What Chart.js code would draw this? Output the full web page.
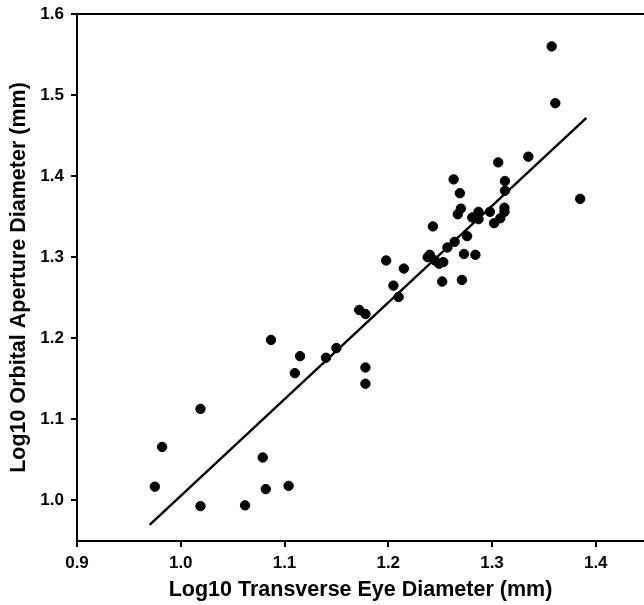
<!DOCTYPE html>
<html>
<head>
<meta charset="utf-8">
<script src="https://cdn.jsdelivr.net/npm/chart.js@4"></script>
<style>
  html, body { margin: 0; padding: 0; background: #fff; }
  #wrap { width: 644px; height: 605px; }
</style>
</head>
<body>
<div id="wrap"><canvas id="eye-chart" width="644" height="605"></canvas></div>
<script>
// ---------------------------------------------------------------------------------------
// Daten

var transverseEye = [0.975, 0.982, 1.019, 1.019, 1.062, 1.079, 1.082, 1.104, 1.087, 1.115,
  1.110, 1.140, 1.150, 1.172, 1.178, 1.178, 1.178, 1.198, 1.215, 1.205,
  1.210, 1.240, 1.238, 1.245, 1.249, 1.253, 1.252, 1.257, 1.264, 1.276,
  1.273, 1.284, 1.271, 1.243, 1.263, 1.269, 1.270, 1.267, 1.281, 1.287,
  1.287, 1.298, 1.302, 1.308, 1.312, 1.312, 1.3125, 1.3125, 1.306, 1.335,
  1.3575, 1.361, 1.385];

var orbitalAperture = [1.017, 1.066, 1.113, 0.993, 0.994, 1.053, 1.014, 1.018, 1.198, 1.178,
  1.157, 1.176, 1.188, 1.235, 1.230, 1.164, 1.144, 1.296, 1.286, 1.265,
  1.251, 1.303, 1.300, 1.296, 1.292, 1.294, 1.270, 1.312, 1.319, 1.326,
  1.304, 1.303, 1.272, 1.338, 1.396, 1.379, 1.360, 1.353, 1.349, 1.356,
  1.347, 1.356, 1.342, 1.348, 1.361, 1.356, 1.394, 1.382, 1.417, 1.424,
  1.560, 1.490, 1.372];

// Regressionsgerade (Endpunkte)
var fitX = [0.970, 1.391];
var fitY = [0.970, 1.472];

var xTicks = [0.9, 1.0, 1.1, 1.2, 1.3, 1.4];
var yTicks = [1.0, 1.1, 1.2, 1.3, 1.4, 1.5, 1.6];

var points = transverseEye.map(function(v, i){ return {x: v, y: orbitalAperture[i]}; });
var fitline = fitX.map(function(v, i){ return {x: v, y: fitY[i]}; });

// obere Rahmenlinie
var topBorder = {
  id: 'topBorder',
  afterDraw: function(chart){
    var ctx = chart.ctx, a = chart.chartArea;
    ctx.save();
    ctx.strokeStyle = '#000';
    ctx.lineWidth = 2;
    ctx.beginPath();
    ctx.moveTo(a.left, a.top);
    ctx.lineTo(a.right, a.top);
    ctx.stroke();
    ctx.restore();
  }
};

// ---------------------------------------------------------------------------------------
// Chart

new Chart(document.getElementById("eye-chart"), {
    type: 'scatter',
    data: {
      datasets: [
        {
          label: "Orbital Aperture",
          data: points,
          backgroundColor: "#000",
          borderColor: "#000",
          pointRadius: 4.7,
          pointHoverRadius: 4.7
        },
        {
          label: "Fit",
          type: 'line',
          data: fitline,
          borderColor: "#000",
          borderWidth: 2.4,
          pointRadius: 0,
          fill: false
        }
      ]
    },
    options: {
      responsive: false,
      animation: false,
      layout: {autoPadding: false, padding: {left: 0, right: 0, top: 14, bottom: 0}},
      scales: {
        x: {
          type: 'linear',
          min: 0.9,
          max: 1.4465,
          afterBuildTicks: function(scale){ scale.ticks = xTicks.map(function(v){ return {value: v}; }); },
          afterFit: function(scale){ scale.height = 64; scale.paddingLeft = 0; scale.paddingRight = 0; },
          grid: {display: true, drawOnChartArea: false, drawTicks: true, tickLength: 6, color: '#000', lineWidth: 2},
          border: {display: true, color: '#000', width: 2},
          ticks: {
            color: '#000',
            padding: 6,
            font: {family: 'Liberation Sans, Arial, sans-serif', size: 17, weight: 'bold'},
            callback: function(v){ return v.toFixed(1); }
          },
          title: {
            display: true,
            text: 'Log10 Transverse Eye Diameter (mm)',
            color: '#000',
            padding: {top: 0, bottom: 2},
            font: {family: 'Liberation Sans, Arial, sans-serif', size: 21.5, weight: 'bold'}
          }
        },
        y: {
          min: 0.95,
          max: 1.6,
          afterBuildTicks: function(scale){ scale.ticks = yTicks.map(function(v){ return {value: v}; }); },
          afterFit: function(scale){ scale.width = 77; scale.paddingTop = 0; scale.paddingBottom = 0; },
          grid: {display: true, drawOnChartArea: false, drawTicks: true, tickLength: 6, color: '#000', lineWidth: 2},
          border: {display: true, color: '#000', width: 2},
          ticks: {
            color: '#000',
            padding: 7,
            font: {family: 'Liberation Sans, Arial, sans-serif', size: 17, weight: 'bold'},
            callback: function(v){ return v.toFixed(1); }
          },
          title: {
            display: true,
            text: 'Log10 Orbital Aperture Diameter (mm)',
            color: '#000',
            padding: {top: 6, bottom: 0},
            font: {family: 'Liberation Sans, Arial, sans-serif', size: 21.5, weight: 'bold'}
          }
        }
      },
      plugins: {
        legend: {display: false},
        tooltip: {enabled: false}
      }
    },
    plugins: [topBorder]
});
</script>
</body>
</html>
